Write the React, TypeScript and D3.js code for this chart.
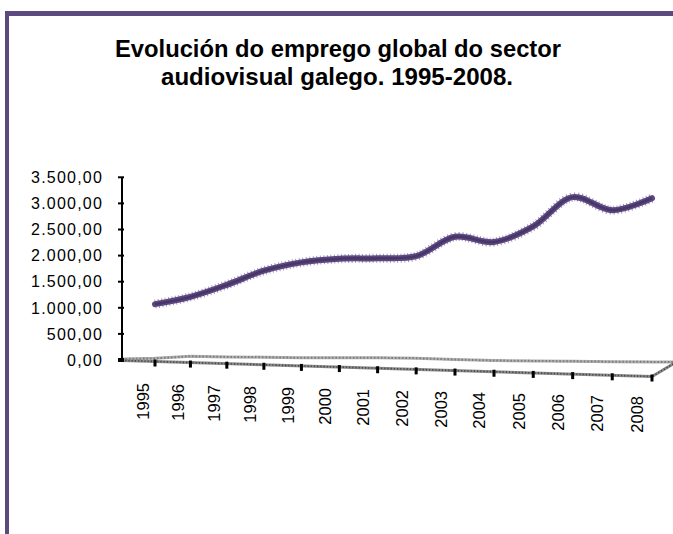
import React from "react";
import * as d3 from "d3";

const years = ["1995","1996","1997","1998","1999","2000","2001","2002","2003","2004","2005","2006","2007","2008"];
const emprego = [1070, 1210, 1440, 1710, 1870, 1940, 1950, 1990, 2360, 2260, 2560, 3120, 2870, 3100];
const backSeries = [60, 120, 130, 145, 155, 180, 200, 215, 210, 215, 230, 245, 260, 280];
const yTicks = [0, 500, 1000, 1500, 2000, 2500, 3000, 3500];
const titleLines = ["Evolución do emprego global do sector", "audiovisual galego.  1995-2008."];

const W = 673;
const H = 534;

const fmt = (v: number) => {
  const s = v.toFixed(2).replace(".", ",");
  const [int, dec] = s.split(",");
  const withDots = int.replace(/\B(?=(\d{3})+(?!\d))/g, ".");
  return withDots + "," + dec;
};

export default function App() {
  const axisX = 122;
  const s = d3.scalePow().exponent(1.052).domain([0, 14]).range([axisX, 652]);
  const y = d3.scaleLinear().domain([0, 3500]).range([360, 177.3]);
  const floorY = d3.scaleLinear().domain([axisX, 652]).range([360.5, 376.5]);
  const labelTop = d3.scaleLinear().domain([0, 13]).range([383, 396]);

  const px = (i: number) => s(i + 1);

  const mainLine = d3
    .line<number>()
    .x((_, i) => px(i))
    .y((d) => y(d))
    .curve(d3.curveCatmullRom.alpha(0.5));

  const backPts: [number, number][] = [[axisX, 359], ...backSeries.map((d, i) => [px(i), floorY(px(i)) - (y(0) - y(d))] as [number, number]), [W, 362]];
  const floorPts: [number, number][] = [[axisX, floorY(axisX)], [652, floorY(652)], [W, 364]];

  const purple = "#5b4781";
  const lineD = mainLine(emprego) || "";

  return (
    <svg width={W} height={H} style={{ position: "absolute", left: 0, top: 0, background: "#fff" }} fontFamily="'Liberation Sans', Arial, sans-serif">
      <rect x={5} y={11} width={W - 5} height={5} fill="#5c4a7e" />
      <rect x={5} y={11} width={4} height={H - 11} fill="#5c4a7e" />

      <text x={338} y={57} textAnchor="middle" fontWeight="bold" fontSize={24} textLength={446} lengthAdjust="spacingAndGlyphs">{titleLines[0]}</text>
      <text x={337} y={85} textAnchor="middle" fontWeight="bold" fontSize={24} textLength={352} lengthAdjust="spacingAndGlyphs">{titleLines[1]}</text>

      <path d={d3.line()(backPts) || ""} fill="none" stroke="#b0b0b0" strokeWidth={3} />
      <path d={d3.line()(backPts) || ""} fill="none" stroke="#7c7c7c" strokeWidth={2} strokeDasharray="1.5 2" />
      <path d={d3.line()(floorPts) || ""} fill="none" stroke="#8a8a8a" strokeWidth={3} />
      <path d={d3.line()(floorPts) || ""} fill="none" stroke="#444" strokeWidth={1.6} strokeDasharray="1.2 2" />

      {years.map((yr, i) => (
        <rect key={"t" + yr} x={px(i) - 1.5} y={floorY(px(i)) - 2} width={3} height={7} fill="#000" />
      ))}

      <line x1={axisX} x2={axisX} y1={y(3500)} y2={y(0) + 1} stroke="#000" strokeWidth={2} />
      <rect x={axisX - 4} y={y(0) - 2} width={6} height={4} fill="#000" />
      {yTicks.map((t) => (
        <g key={"y" + t}>
          <line x1={axisX - 4} x2={axisX + 2} y1={y(t)} y2={y(t)} stroke="#000" strokeWidth={2} />
          <text x={103} y={y(t)} dy="0.36em" textAnchor="end" fontSize={16} letterSpacing={1.2}>{fmt(t)}</text>
        </g>
      ))}

      <path d={lineD} fill="none" stroke="#7a66a0" strokeWidth={9} strokeDasharray="1 2.5" opacity={0.7} />
      <path d={lineD} fill="none" stroke={purple} strokeWidth={6} strokeLinecap="round" strokeLinejoin="round" />
      <path d={lineD} fill="none" stroke="#2f2145" strokeWidth={2.5} opacity={0.45} />

      {years.map((yr, i) => {
        const lx = (s(i) + s(i + 1)) / 2 + 5;
        const ly = labelTop(i);
        return (
          <text key={"l" + yr} transform={`translate(${lx},${ly}) rotate(-90)`} textAnchor="end" dy="0.36em" fontSize={16.5}>{yr}</text>
        );
      })}
    </svg>
  );
}
